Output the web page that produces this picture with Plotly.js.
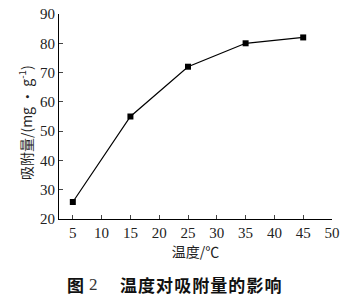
<!DOCTYPE html>
<html><head><meta charset="utf-8">
<script src="https://cdn.plot.ly/plotly-3.0.1.min.js"></script>
<style>html,body{margin:0;padding:0;background:#fff}#c{width:358px;height:302px}</style>
</head><body><div id="c"></div>
<script>
const temperature = [5, 15, 25, 35, 45];
const adsorption = [25.8, 55, 72, 80, 82];
const xTicks = [5, 10, 15, 20, 25, 30, 35, 40, 45, 50];
const yTicks = [20, 30, 40, 50, 60, 70, 80, 90];
const xTitle = '温度/℃';
const yTitle = '吸附量/(mg · g<sup>-1</sup>)';
const figLabel = '图';
const figNum = '2';
const captionText = '温度对吸附量的影响';

const serif = '"Liberation Serif", "Noto Sans CJK SC", serif';
const cjk = '"Noto Sans CJK SC", sans-serif';
const spaced = captionText.split('').join('\u200A');
Plotly.newPlot('c', [{
  x: temperature, y: adsorption, type: 'scatter', mode: 'lines+markers',
  line: {color: '#000', width: 1.2},
  marker: {symbol: 'square', size: 6, color: '#000'}
}], {
  width: 358, height: 302,
  margin: {l: 59, r: 26, t: 14, b: 83},
  paper_bgcolor: '#fff', plot_bgcolor: '#fff',
  showlegend: false,
  font: {family: serif, color: '#111', size: 14},
  xaxis: {
    range: [2.6, 50], tickvals: xTicks, ticks: 'inside', ticklen: 4,
    showline: true, linecolor: '#000', linewidth: 1, showgrid: false, zeroline: false,
    tickfont: {size: 15, family: serif, color: '#222'},
    title: {text: xTitle, font: {size: 14, family: cjk, color: '#222'}, standoff: 4}
  },
  yaxis: {
    range: [20, 90], tickvals: yTicks, ticks: 'inside', ticklen: 4,
    showline: true, linecolor: '#000', linewidth: 1, showgrid: false, zeroline: false,
    tickfont: {size: 15, family: serif, color: '#222'}
  },
  annotations: [
    {text: yTitle, xref: 'paper', yref: 'paper', x: -0.1245, y: 0.468,
     xanchor: 'center', yanchor: 'middle', textangle: -90, showarrow: false,
     font: {size: 14, family: cjk, color: '#222'}},
    {text: '<b>' + figLabel + '</b>', xref: 'paper', yref: 'paper', x: 0.059, y: -0.32,
     xanchor: 'center', yanchor: 'middle', showarrow: false,
     font: {size: 17, family: cjk, color: '#111'}},
    {text: figNum, xref: 'paper', yref: 'paper', x: 0.125, y: -0.32,
     xanchor: 'center', yanchor: 'middle', showarrow: false,
     font: {size: 17, family: serif, color: '#333'}},
    {text: '<b>' + spaced + '</b>', xref: 'paper', yref: 'paper', x: 0.216, y: -0.32,
     xanchor: 'left', yanchor: 'middle', showarrow: false,
     font: {size: 17, family: cjk, color: '#111'}}
  ]
}, {displayModeBar: false, staticPlot: true});
</script></body></html>
